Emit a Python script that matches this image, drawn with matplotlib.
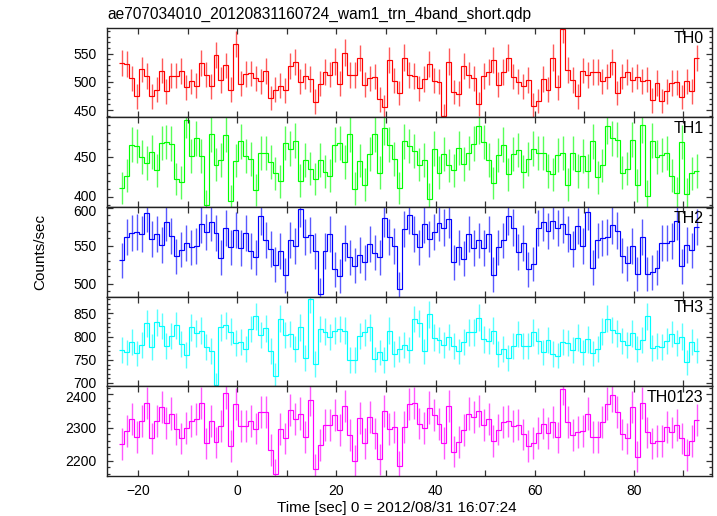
import matplotlib
matplotlib.use("Agg")
import matplotlib.pyplot as plt
import numpy as np
from matplotlib.ticker import MultipleLocator
from matplotlib.transforms import ScaledTranslation

plt.rcParams['font.family'] = ['Liberation Sans', 'DejaVu Sans']

# 1 s bins, first bin starts at t = -23.8 s
t_start = -23.8
bin_width = 1.0

th0 = [533, 531, 506, 474, 522, 510, 474, 486, 520, 483, 511, 511, 519, 490, 501, 493, 533, 513, 492, 548,
       503, 529, 486, 567, 497, 514, 515, 506, 501, 519, 471, 486, 493, 485, 528, 535, 500, 510, 505, 465,
       497, 518, 513, 536, 497, 552, 512, 512, 542, 495, 506, 509, 469, 455, 539, 502, 480, 543, 512, 510,
       489, 505, 531, 502, 500, 440, 536, 482, 479, 528, 512, 506, 461, 510, 518, 539, 495, 518, 543, 509,
       500, 492, 503, 458, 466, 505, 486, 543, 490, 593, 521, 503, 474, 520, 512, 517, 517, 501, 509, 535,
       480, 509, 517, 504, 509, 501, 504, 467, 498, 466, 483, 498, 499, 473, 501, 483, 542]

th1 = [411, 426, 465, 463, 449, 442, 456, 433, 467, 468, 466, 422, 418, 496, 451, 473, 451, 389, 478, 440,
       446, 477, 395, 445, 469, 451, 447, 408, 455, 454, 443, 429, 419, 467, 460, 470, 420, 446, 435, 422,
       446, 431, 426, 465, 467, 443, 478, 410, 445, 415, 453, 478, 430, 486, 465, 447, 411, 469, 463, 457,
       440, 446, 397, 460, 430, 453, 439, 433, 461, 441, 455, 466, 488, 468, 446, 417, 452, 465, 428, 453,
       458, 431, 447, 460, 455, 455, 432, 428, 452, 455, 415, 454, 432, 451, 432, 469, 424, 439, 488, 473,
       471, 430, 435, 471, 414, 489, 401, 470, 449, 452, 455, 426, 404, 468, 403, 429, 432]

th2 = [531, 562, 567, 568, 565, 593, 559, 566, 551, 581, 563, 536, 545, 554, 548, 550, 578, 568, 581, 567,
       534, 573, 548, 571, 547, 567, 543, 535, 589, 558, 546, 525, 543, 511, 558, 550, 599, 561, 564, 543,
       486, 543, 566, 519, 510, 554, 535, 524, 538, 528, 552, 541, 535, 586, 561, 550, 493, 572, 590, 565,
       548, 578, 559, 568, 580, 574, 585, 528, 548, 533, 565, 547, 557, 547, 565, 512, 548, 557, 589, 574,
       542, 554, 519, 526, 573, 581, 569, 583, 573, 578, 566, 546, 576, 550, 595, 521, 557, 560, 562, 577,
       570, 537, 527, 550, 513, 562, 513, 515, 521, 554, 554, 556, 582, 523, 551, 544, 575]

th3 = [771, 766, 788, 764, 782, 829, 777, 831, 823, 779, 801, 824, 784, 760, 820, 807, 813, 777, 769, 696,
       820, 824, 811, 786, 789, 773, 816, 844, 804, 818, 769, 716, 839, 804, 806, 773, 820, 754, 880, 741,
       816, 811, 799, 813, 816, 813, 750, 750, 802, 809, 820, 751, 766, 750, 813, 763, 773, 781, 771, 838,
       829, 768, 848, 798, 793, 782, 799, 779, 768, 789, 809, 809, 841, 794, 791, 813, 763, 774, 754, 779,
       806, 779, 779, 809, 791, 766, 793, 763, 759, 789, 787, 771, 798, 766, 794, 764, 773, 811, 839, 814,
       807, 791, 782, 807, 773, 793, 844, 775, 780, 777, 791, 806, 787, 800, 745, 789, 770]

th0123 = [2250, 2290, 2327, 2272, 2320, 2374, 2267, 2320, 2362, 2314, 2342, 2295, 2267, 2299, 2320, 2327,
          2374, 2252, 2320, 2255, 2304, 2404, 2245, 2370, 2304, 2305, 2320, 2297, 2347, 2347, 2232, 2159,
          2295, 2267, 2352, 2327, 2342, 2272, 2384, 2174, 2247, 2307, 2307, 2337, 2292, 2364, 2277, 2200,
          2329, 2252, 2332, 2282, 2204, 2349, 2295, 2302, 2184, 2302, 2370, 2374, 2312, 2299, 2360, 2337,
          2310, 2254, 2365, 2227, 2257, 2292, 2342, 2332, 2350, 2307, 2327, 2259, 2294, 2317, 2320, 2304,
          2309, 2279, 2245, 2254, 2284, 2312, 2284, 2317, 2270, 2417, 2317, 2277, 2287, 2290, 2342, 2272,
          2272, 2317, 2372, 2397, 2347, 2279, 2267, 2362, 2212, 2374, 2285, 2252, 2260, 2260, 2302, 2285,
          2307, 2267, 2217, 2260, 2324]

names = ["TH0", "TH1", "TH2", "TH3", "TH0123"]
series = [th0, th1, th2, th3, th0123]
colors = ["#ff0000", "#00ff00", "#0000ff", "#00ffff", "#ff00ff"]
ylims = [(437, 596), (387, 499), (483, 601), (693, 886), (2154, 2424)]
major_steps = [50, 50, 50, 50, 100]
minor_steps = [10, 10, 10, 10, 20]

fig = plt.figure(figsize=(7.17, 5.16), dpi=100)
axes = fig.subplots(5, 1, sharex=True, gridspec_kw=dict(hspace=0))
fig.subplots_adjust(left=107 / 717, right=712 / 717, top=1 - 27.7 / 516, bottom=1 - 476 / 516)

for ax, name, vals, c, yl, mj, mn in zip(axes, names, series, colors, ylims, major_steps, minor_steps):
    vals = np.array(vals, dtype=float)
    edges = t_start + bin_width * np.arange(len(vals) + 1)
    centers = edges[:-1] + bin_width / 2
    # poisson errors on 1 s bins
    ax.errorbar(centers, vals, yerr=np.sqrt(vals), fmt='none', ecolor=c, elinewidth=1.0, alpha=0.65)
    ax.stairs(vals, edges, color=c, lw=0.85, baseline=None)
    ax.set_ylim(*yl)
    ax.yaxis.set_major_locator(MultipleLocator(mj))
    ax.yaxis.set_minor_locator(MultipleLocator(mn))
    ax.tick_params(which='both', direction='in', top=True, right=True, labelsize=10,
                   color='#333333', width=0.9)
    ax.tick_params(axis='y', which='major', length=4, pad=7.5)
    ax.tick_params(axis='y', which='minor', length=2.2)
    ax.tick_params(axis='x', which='both', length=4.5, pad=6)
    for sp in ax.spines.values():
        sp.set_linewidth(1.0)
        sp.set_color('#222222')
    ax.text(0.986, 0.875, name, transform=ax.transAxes, ha='right', va='center', fontsize=11.5)

axes[-1].set_xlim(-26.3, 95.8)
axes[-1].xaxis.set_major_locator(MultipleLocator(20))
axes[-1].xaxis.set_minor_locator(MultipleLocator(10))

fig.text(107 / 717, 1 - 14 / 516, "ae707034010_20120831160724_wam1_trn_4band_short.qdp",
         ha='left', va='center', fontsize=11.2)
fig.text(40 / 717, 1 - 252 / 516, "Counts/sec", rotation=90, ha='center', va='center', fontsize=11)
fig.text(397 / 717, 1 - 508 / 516, "Time [sec] 0 = 2012/08/31 16:07:24", ha='center', va='center',
         fontsize=11)

# nudge the labels that sit on the panel joins apart a little (600/400 and 2400/700)
fig.canvas.draw()
nudges = {2: (600, -2.5), 1: (400, 1.0), 4: (2400, -2.5), 3: (700, 1.0)}
for i, (loc, dy) in nudges.items():
    for tick in axes[i].yaxis.get_major_ticks():
        if abs(tick.get_loc() - loc) < 1e-6:
            lab = tick.label1
            lab.set_transform(lab.get_transform() + ScaledTranslation(0, dy / 100, fig.dpi_scale_trans))

fig.savefig("out.png", dpi=100)
